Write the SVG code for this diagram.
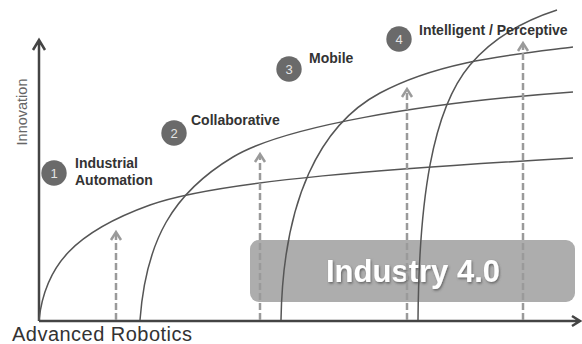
<svg xmlns="http://www.w3.org/2000/svg" width="582" height="344" viewBox="0 0 582 344">
<defs>
<style>
.lbl{font-family:"Liberation Sans",Arial,sans-serif;font-weight:bold;font-size:14px;fill:#333}
.num{font-family:"Liberation Sans",Arial,sans-serif;font-size:13px;fill:#e4e4e4;text-anchor:middle}
.dot{fill:#6a6a6a}
.curve{fill:none;stroke:#555;stroke-width:1.5}
.axis{fill:none;stroke:#444;stroke-width:2.5}
.dash{fill:none;stroke:#9a9a9a;stroke-width:2.5;stroke-dasharray:7 3}
.head{fill:none;stroke:#9a9a9a;stroke-width:2.5}
</style>
<filter id="sh" x="-10%" y="-30%" width="120%" height="160%">
<feDropShadow dx="1" dy="1.5" stdDeviation="0.8" flood-color="#444" flood-opacity="0.7"/>
</filter>
</defs>
<rect width="582" height="344" fill="#fff"/>
<g id="industry40">
<rect x="250" y="240" width="325" height="62" rx="9" fill="#adadad"/>
<text x="413" y="282" text-anchor="middle" font-family="'Liberation Sans',Arial,sans-serif" font-weight="bold" font-size="31" fill="#fff" filter="url(#sh)">Industry 4.0</text>
</g>
<g id="axes">
<path class="axis" d="M39,321 V41 M33,50 L39,40 L45,50"/>
<path class="axis" d="M39,321 H579 M572,316 L580,321 L572,326"/>
<text x="27" y="112" transform="rotate(-90 27 112)" text-anchor="middle" font-family="'Liberation Sans',Arial,sans-serif" font-size="14.5" fill="#666">Innovation</text>
<text x="12" y="341" font-family="'Liberation Sans',Arial,sans-serif" font-size="20" fill="#333" textLength="180">Advanced Robotics</text>
</g>
<g id="connectors">
<path class="curve" d="M39,320 C45,265 75,232 150,205 C220,180 400,168 573,158"/>
<path class="curve" d="M140,320 C146,240 173,193 233,157 C283,127 420,103 573,92"/>
<path class="curve" d="M281,320 C283,200 320,125 380,93 C440,61 510,55 573,47"/>
<path class="curve" d="M418,320 C419,200 432,110 470,65 C490,41 520,22 557,10"/>
<path class="dash" d="M116,320 V233"/>
<path class="head" d="M111,240 L116,232 L121,240"/>
<path class="dash" d="M260,320 V155"/>
<path class="head" d="M255,162 L260,154 L265,162"/>
<path class="dash" d="M407,320 V90"/>
<path class="head" d="M402,97 L407,89 L412,97"/>
<path class="dash" d="M523,320 V44"/>
<path class="head" d="M518,51 L523,43 L528,51"/>
</g>
<g id="node1">
<circle class="dot" cx="54" cy="173" r="12.7"/>
<text class="num" x="54" y="177.5">1</text>
<text class="lbl" x="75" y="168">Industrial</text>
<text class="lbl" x="75" y="185">Automation</text>
</g>
<g id="node2">
<circle class="dot" cx="174" cy="133" r="12.7"/>
<text class="num" x="174" y="137.5">2</text>
<text class="lbl" x="191" y="125">Collaborative</text>
</g>
<g id="node3">
<circle class="dot" cx="289" cy="69" r="12.7"/>
<text class="num" x="289" y="73.5">3</text>
<text class="lbl" x="309" y="63">Mobile</text>
</g>
<g id="node4">
<circle class="dot" cx="399" cy="39" r="12.7"/>
<text class="num" x="399" y="43.5">4</text>
<text class="lbl" x="419" y="35">Intelligent / Perceptive</text>
</g>
</svg>
